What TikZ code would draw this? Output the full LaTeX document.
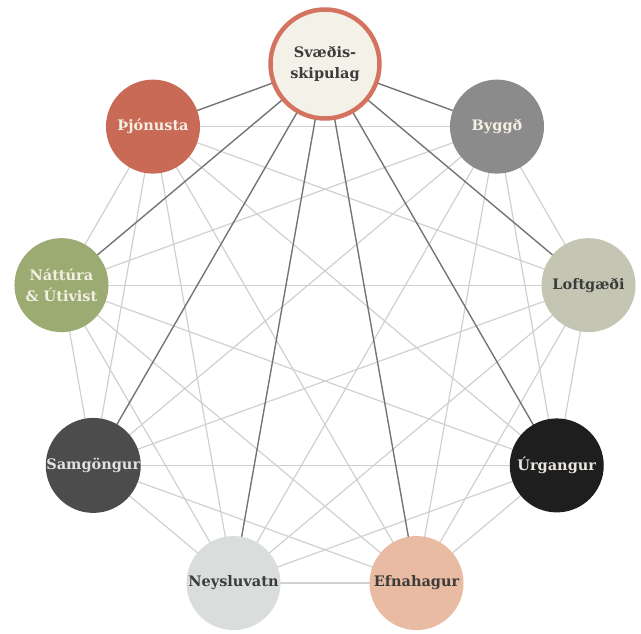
\documentclass[tikz,border=0pt]{standalone}
\usepackage{fontspec}
\setmainfont{DejaVu Serif}
\usetikzlibrary{backgrounds}

\definecolor{borde}{HTML}{D4735F}
\definecolor{crema}{HTML}{F4F2E8}
\definecolor{textoclaro}{HTML}{F3EFE2}
\definecolor{textooscuro}{HTML}{3C3C3C}
\definecolor{lineaclara}{HTML}{D0D0D0}
\definecolor{lineaoscura}{HTML}{747474}

\begin{document}
\begin{tikzpicture}[x=1pt, y=1pt]
  % estilos
   \tikzset{
   tema/.style={
           circle,
           minimum size=94pt,
           inner sep=0pt,
           align=center,
           font=\fontsize{14.5}{21}\selectfont\bfseries},
    % conexiones
    enlace/.style={
           draw=lineaclara,
           line width=1.2pt},
    principal/.style={
           draw=lineaoscura,
           line width=1.4pt}
    }

  \useasboundingbox (0,0) rectangle (641,-633);

  % Gráfico
  \node[tema, minimum size=109pt, fill=crema, draw=borde, line width=4.5pt,
        text=textooscuro] (svaedis) at (325,-64) {Svæðis-\\skipulag};
  \node[tema, fill={rgb,255:red,200;green,106;blue,85}, text=textoclaro]
        (thjon) at ([shift={(130:267.6)}] 325,-331.6) {Þjónusta};
  \node[tema, fill={rgb,255:red,139;green,139;blue,139}, text=textoclaro]
        (byggd) at ([shift={(50:267.6)}] 325,-331.6) {Byggð};
  \node[tema, fill={rgb,255:red,196;green,197;blue,178}, text=textooscuro]
        (loft) at ([shift={(10:267.6)}] 325,-331.6) {Loftgæði};
  \node[tema, fill={rgb,255:red,30;green,30;blue,30}, text={rgb,255:red,232;green,230;blue,222}]
        (urg) at ([shift={(-30:267.6)}] 325,-331.6) {Úrgangur};
  \node[tema, fill={rgb,255:red,232;green,187;blue,162}, text=textooscuro]
        (efna) at ([shift={(-70:267.6)}] 325,-331.6) {Efnahagur};
  \node[tema, fill={rgb,255:red,217;green,221;blue,220}, text=textooscuro]
        (neys) at ([shift={(-110:267.6)}] 325,-331.6) {Neysluvatn};
  \node[tema, fill={rgb,255:red,75;green,76;blue,75}, text={rgb,255:red,225;green,225;blue,225}]
        (samg) at ([shift={(-150:267.6)}] 325,-331.6) {Samgöngur};
  \node[tema, fill={rgb,255:red,155;green,171;blue,114}, text=textoclaro]
        (natt) at ([shift={(170:267.6)}] 325,-331.6) {Náttúra\\\& Útivist};

  \begin{scope}[on background layer]
    \foreach \a/\b in {thjon/byggd, thjon/loft, thjon/urg, thjon/efna, thjon/neys,
        thjon/samg, thjon/natt, byggd/loft, byggd/urg, byggd/efna, byggd/neys,
        byggd/samg, byggd/natt, loft/urg, loft/efna, loft/neys, loft/samg,
        loft/natt, urg/efna, urg/neys, urg/samg, urg/natt, efna/neys, efna/samg,
        efna/natt, neys/samg, neys/natt, samg/natt}
      \draw[enlace] (\a.center) -- (\b.center);
    \foreach \b in {thjon, byggd, loft, urg, efna, neys, samg, natt}
      \draw[principal] (svaedis.center) -- (\b.center);
  \end{scope}
 \end{tikzpicture}
\end{document}
